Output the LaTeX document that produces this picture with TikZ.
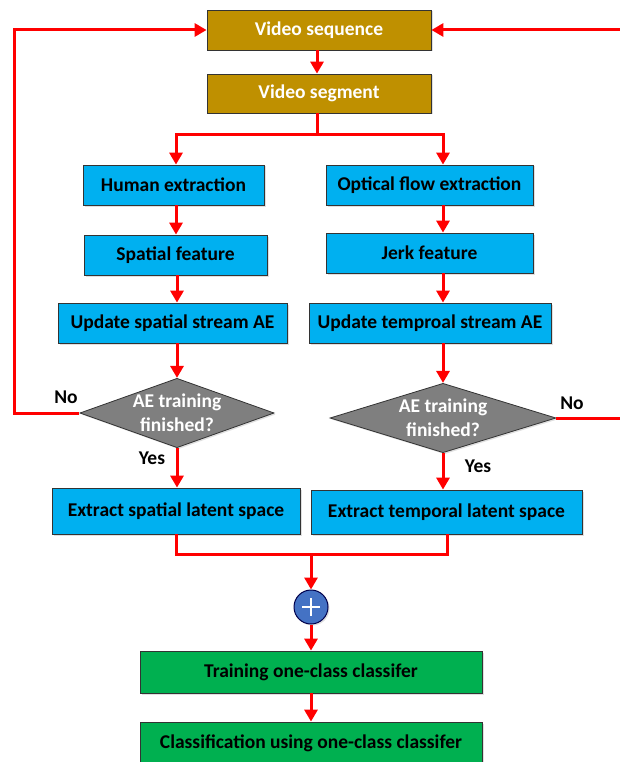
\documentclass[tikz,border=0pt]{standalone}
\usepackage{fontspec}
\setmainfont{Carlito}
\usetikzlibrary{arrows.meta,shapes.geometric,shadows}
\definecolor{gold}{HTML}{BF9000}
\definecolor{skyb}{HTML}{00B0F0}
\definecolor{grn}{HTML}{00B050}
\definecolor{dgray}{HTML}{7F7F7F}
\definecolor{cblue}{HTML}{4472C4}
\definecolor{redl}{HTML}{FF0000}
\begin{document}
\begin{tikzpicture}[x=1pt,y=-1pt,
  box/.style={draw=black!80,line width=0.8pt,minimum height=40pt,font=\bfseries\fontsize{19.5}{22}\selectfont,inner sep=0pt,drop shadow={shadow xshift=1.5pt,shadow yshift=-1.5pt,opacity=0.25}},
  goldbox/.style={box,fill=gold,text=white},
  bluebox/.style={box,fill=skyb,text=black},
  greenbox/.style={box,fill=grn,text=black},
  decide/.style={diamond,draw=black!80,line width=0.8pt,fill=dgray,text=white,aspect=2.8,inner sep=0pt,font=\bfseries\fontsize{19.5}{24}\selectfont,align=center,drop shadow={shadow xshift=1.5pt,shadow yshift=-1.5pt,opacity=0.25}},
  lbl/.style={font=\bfseries\fontsize{19.5}{22}\selectfont,text=black},
  con/.style={draw=redl,line width=3pt},
  arr/.style={con,-{Triangle[length=12pt,width=13pt]}}
]
\useasboundingbox (0,0) rectangle (620,762);
\node[goldbox,minimum width=224pt] (vseq) at (319,30) {Video sequence};
\node[goldbox,minimum width=224pt,minimum height=39pt] (vseg) at (319,93.5) {Video segment};
\node[bluebox,minimum width=181pt] (hum) at (173.5,185) {Human extraction};
\node[bluebox,minimum width=207pt] (opt) at (429.5,185) {Optical flow extraction};
\node[bluebox,minimum width=183pt] (spa) at (175.5,255) {Spatial feature};
\node[bluebox,minimum width=207pt] (jerk) at (429.5,253) {Jerk feature};
\node[bluebox,minimum width=229pt] (ups) at (172.5,323) {Update spatial stream AE};
\node[bluebox,minimum width=242pt] (upt) at (430,323) {Update temproal stream AE};
\node[decide,minimum width=189pt,minimum height=67pt] (d1) at (177,413) {AE training\\finished?};
\node[decide,minimum width=226pt,minimum height=68pt] (d2) at (443,418) {AE training\\finished?};
\node[bluebox,minimum width=248pt,minimum height=46pt] (exs) at (176,511) {Extract spatial latent space};
\node[bluebox,minimum width=271pt,minimum height=44pt] (ext) at (446.5,512) {Extract temporal latent space};
\node[circle,draw=black!70!blue,line width=1pt,fill=cblue,minimum size=34pt,inner sep=0pt,drop shadow={shadow xshift=1.5pt,shadow yshift=-1.5pt,opacity=0.25}] (plus) at (311,607) {};
\draw[white,line width=2.4pt] ([xshift=-9pt]plus.center) -- ([xshift=9pt]plus.center) ([yshift=-9pt]plus.center) -- ([yshift=9pt]plus.center);
\node[greenbox,minimum width=342pt,minimum height=42pt] (tr) at (311,672) {Training one-class classifer};
\node[greenbox,minimum width=342pt,minimum height=42pt] (cl) at (311,743) {Classification using one-class classifer};
\node[lbl] (no1) at (66,397) {No};
\node[lbl] (no2) at (572,403) {No};
\node[lbl] (yes1) at (152,458) {Yes};
\node[lbl] (yes2) at (478,466) {Yes};
\coordinate (lb) at (14,413);
\coordinate (lt) at (14,30);
\coordinate (rb) at (622,418);
\coordinate (rt) at (622,30);
\coordinate (sp) at (317,135);
\coordinate (mg) at (311,554);
% connectors
\draw[arr] (vseq.south -| 317,0) -- (vseg.north -| 317,0);
\draw[con] (vseg.south -| sp) -- (sp);
\draw[arr] (sp) -| (hum.north -| 176,0);
\draw[arr] (sp) -| (opt.north -| 443,0);
\draw[arr] (hum.south -| 176,0) -- (spa.north -| 176,0);
\draw[arr] (opt.south -| 443,0) -- (jerk.north -| 443,0);
\draw[arr] (spa.south -| 177,0) -- (ups.north -| 177,0);
\draw[arr] (jerk.south -| 443,0) -- (upt.north -| 443,0);
\draw[arr] (ups.south -| d1.north) -- (d1.north);
\draw[arr] (upt.south -| d2.north) -- (d2.north);
\draw[arr] (d1.south) -- (exs.north -| d1.south);
\draw[arr] (d2.south) -- (ext.north -| d2.south);
\draw[arr] (d1.west) -- (lb) -- (lt) -- (vseq.west);
\draw[arr] (d2.east) -- (rb) -- (rt) -- (vseq.east);
\draw[con] (exs.south) -- (exs.south |- mg) -- (mg -| 447,0) -- (ext.south -| 447,0);
\draw[arr] (mg) -- (plus.north);
\draw[arr] (plus.south) -- (tr.north);
\draw[arr] (tr.south) -- (cl.north);
\end{tikzpicture}
\end{document}
